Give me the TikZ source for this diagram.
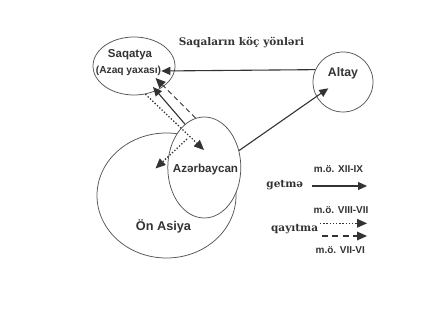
\documentclass[tikz,border=0pt]{standalone}
\usepackage{fontspec}
\setmainfont{Liberation Sans}
\newfontfamily\titlefont{DejaVu Serif}
\usetikzlibrary{shapes.geometric,arrows.meta}
\definecolor{ink}{HTML}{333333}
\definecolor{edge}{HTML}{555555}
\begin{document}
\begin{tikzpicture}[x=1pt,y=-1pt,
  region/.style={ellipse,draw=edge,line width=0.75pt,fill=white,inner sep=0pt},
  lbl/.style={font=\bfseries\fontsize{#1}{#1}\selectfont,text=ink,inner sep=0pt},
  ttl/.style={font=\titlefont\bfseries\fontsize{10.5}{12}\selectfont,text=ink,inner sep=0pt},
  tip/.style={-{Triangle[length=9pt,width=8pt]}},
  ftip/.style={-{Triangle[length=10pt,width=9pt,line width=0pt]}},
  con/.style={draw=ink,line width=1.1pt},
  dots/.style={dash pattern=on 1.3pt off 1.9pt,line width=1.3pt},
  dashes/.style={dash pattern=on 5pt off 3.5pt,line width=1pt},
]
\useasboundingbox[fill=white] (0,0) rectangle (446,328);
% regions
\node[region,minimum width=139pt,minimum height=125pt] (onas) at (166.5,195.5) {};
\node[region,minimum width=73pt,minimum height=101pt] (azr) at (204.3,167.5) {};
\node[region,minimum width=82pt,minimum height=58pt] (saq) at (134,66) {};
\node[region,circle,minimum size=60pt] (altay) at (343,82) {};
% labels
\node[lbl=11.5] (saqt) at (130,55) {Saqatya};
\node[lbl=10.2] (azaq) at (128.5,71) {(Azaq yaxası)};
\node[lbl=12.3] (altt) at (343,73.5) {Altay};
\node[lbl=11.6] (azrt) at (205.5,170) {Azərbaycan};
\node[lbl=12.7] (onast) at (163.5,226.5) {Ön Asiya};
\node[ttl] (title) at (241.5,43) {Saqaların köç yönləri};
% tip coordinates
\coordinate (altin) at (328.3,88.3);
\coordinate (stip) at (153,87);
\coordinate (dtip) at (155.5,78);
\coordinate (dotstart) at (187,139);
\coordinate (dottip1) at (204,150);
\coordinate (dottip2) at (155.5,168.5);
% connectors
\draw[con,tip] (altay.156) -- (azaq.east);
\draw[con,tip] (azr.26) -- (altin);
\draw[con,tip] (azr.114) -- (stip);
\draw[con,dashes,ftip] (azr.100) -- (dtip);
\draw[con,dots,ftip] (saq.-68) -- (dottip1);
\draw[con,dots,ftip] (dotstart) -- (dottip2);
% legend
\node[lbl=10] (l1) at (338.5,169) {m.ö. XII-IX};
\node[ttl,anchor=east] (getme) at (303.3,185) {getmə};
\coordinate (g1) at (312,186);
\coordinate (g2) at (367,186);
\draw[con,tip] (g1) -- (g2);
\node[lbl=10] (l2) at (341,210) {m.ö. VIII-VII};
\node[ttl,anchor=east] (qay) at (318.3,229) {qayıtma};
\coordinate (q1) at (320,223.3);
\coordinate (q2) at (367,223.3);
\draw[con,dots,line width=1pt,ftip] (q1) -- (q2);
\coordinate (r1) at (321.7,236);
\coordinate (r2) at (367,236);
\draw[con,dash pattern=on 6pt off 4.5pt,ftip] (r1) -- (r2);
\node[lbl=10] (l3) at (340.3,250) {m.ö. VII-VI};
\end{tikzpicture}
\end{document}
